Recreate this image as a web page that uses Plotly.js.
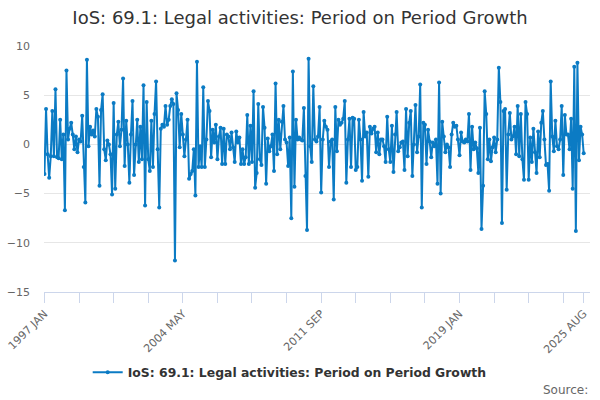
<!DOCTYPE html>
<html>
<head>
<meta charset="utf-8">
<script src="https://cdn.plot.ly/plotly-3.0.1.min.js"></script>
<style>
  html, body { margin: 0; padding: 0; background: #fff; }
  #chart { width: 600px; height: 400px; }
</style>
</head>
<body>
<div id="chart"></div>
<script>
// monthly growth, 1997 JAN .. 2025 AUG, one row per year
const startYear = 1997;
const monthNames = ['JAN', 'FEB', 'MAR', 'APR', 'MAY', 'JUN', 'JUL', 'AUG', 'SEP', 'OCT', 'NOV', 'DEC'];
const growthByYear = [
    [-3.0, 3.6, -1.0, -3.4, -1.2, 3.4, -1.2, 5.6, -1.3, -1.4, 2.5, -1.5],
    [1.0, -6.7, 7.5, 0.5, 1.6, 2.2, 1.0, -0.5, 0.8, -0.8, 0.5, 0.3],
    [2.9, -2.3, -5.9, 8.6, -0.2, 1.8, 1.0, 1.4, 0.8, 3.6, 2.8, -4.2],
    [3.5, 5.1, -0.5, -1.6, 0.4, 0.0, -1.0, -5.1, 4.2, -4.5, 1.0, 2.3],
    [-0.2, 1.5, 6.7, -2.2, 2.4, 0.0, -3.9, 1.0, 4.4, -3.1, 0.0, 2.5],
    [-1.8, 1.8, -1.5, 6.0, -6.2, 4.3, -1.5, -2.7, 2.4, -2.3, 3.1, 6.4],
    [-0.5, -6.4, 1.6, 2.0, 1.8, 3.9, 2.0, 2.5, 3.9, 4.6, 4.1, -11.8],
    [5.2, 3.5, -0.3, 3.1, 1.0, -1.2, 0.5, 2.5, -3.5, -3.0, -2.7, -0.5],
    [-5.2, 8.4, -2.3, -0.2, -2.3, 5.8, -2.3, 0.5, 4.4, 3.4, -1.3, 1.5],
    [0.2, 2.0, -1.5, 0.8, 1.7, -2.0, 1.6, -2.0, 1.0, 0.8, -0.5, 1.2],
    [-0.3, -1.8, 1.3, 0.2, 0.7, -2.0, -0.5, -2.0, -1.3, 3.0, -2.0, 1.9],
    [-1.8, 5.4, -4.4, -2.9, 4.1, -1.5, -2.1, 3.8, 1.7, -4.0, 0.6, -0.7],
    [-0.2, 1.0, -2.7, 6.2, -1.0, 2.5, -0.5, 2.3, 3.9, 0.5, 0.2, -2.2],
    [0.7, -7.5, 7.4, -4.3, 2.5, 0.5, 0.7, 0.5, 0.4, 3.7, -3.2, -8.7],
    [8.7, -0.2, -1.8, 5.9, 0.5, 0.3, 0.8, 3.8, -4.9, 0.5, 2.4, 1.8],
    [1.5, -2.3, 0.3, 0.5, -5.6, 3.8, -0.7, 2.5, 2.0, 2.2, 2.6, 4.4],
    [-3.9, 0.5, 2.6, -2.3, 2.7, 2.6, -2.6, -2.3, 2.5, 0.5, -3.7, 3.3],
    [0.8, 1.2, -3.3, 1.8, 1.1, 1.6, 1.8, -0.8, 1.2, -1.0, 0.5, 0.5],
    [-0.2, -1.8, 2.8, -0.5, -1.8, 1.9, -2.8, 1.0, 3.3, -0.7, -0.3, 0.2],
    [0.3, -2.6, 3.6, -1.2, 2.2, 3.4, -3.2, 0.0, 4.0, -0.8, 0.8, 6.1],
    [-6.4, 2.2, 2.0, -2.0, 1.5, 0.3, -1.3, 0.2, -0.2, 0.5, -4.0, 6.3],
    [-5.0, 2.3, 0.8, -0.8, 0.0, -0.3, -2.3, 1.0, 2.2, 1.8, 1.9, 0.5],
    [-1.1, 1.2, 0.3, 0.2, 0.5, 0.3, 3.1, -2.6, 1.8, -0.5, 0.2, -0.4],
    [-2.9, 1.7, -8.6, -4.2, 5.4, 3.1, -1.5, 0.5, -1.7, -0.3, 0.7, -0.8],
    [0.5, 7.8, 4.3, -8.0, 3.4, 3.6, -4.6, 1.0, 3.2, 0.5, 0.8, 1.8],
    [-1.0, 3.9, -1.2, 3.1, -1.5, -3.6, 4.3, 3.1, -3.6, 0.7, -1.8, 1.6],
    [-0.8, -2.9, 1.3, -1.3, 2.2, 3.4, 0.5, -2.1, -2.0, -4.7, 6.4, 0.8],
    [-0.7, 2.4, -0.2, -0.5, 0.5, 3.9, -3.1, 3.0, 1.0, 1.0, -0.5, 2.6],
    [-4.5, 7.9, -8.8, 8.3, -1.6, 1.8, 1.0, -0.9]
];
const labelledMonths = ['1997 JAN', '2004 MAY', '2011 SEP', '2019 JAN', '2025 AUG'];
const seriesName = 'IoS: 69.1: Legal activities: Period on Period Growth';

const months = [];
const values = [];
growthByYear.forEach((row, y) => {
    row.forEach((v, m) => {
        months.push(`${startYear + y} ${monthNames[m]}`);
        values.push(v);
    });
});
const idx = months.map((_, i) => i);

// tick marks every 22 months, text only on the labelled ones (+ last month)
const tickvals = [];
for (let i = 0; i < months.length; i += 22) tickvals.push(i);
tickvals.push(months.length - 1);
const ticktext = tickvals.map(i => labelledMonths.includes(months[i]) ? months[i] : '');

const blue = '#0b7bc4';
const font = 'DejaVu Sans, sans-serif';

const trace = {
    x: idx,
    y: values,
    text: months,
    name: seriesName,
    type: 'scatter',
    mode: 'lines+markers',
    line: { color: blue, width: 2 },
    marker: { color: blue, size: 4 },
    hoverinfo: 'text+y'
};

const layout = {
    width: 600,
    height: 400,
    margin: { l: 44, r: 10, t: 46, b: 108 },
    paper_bgcolor: '#ffffff',
    plot_bgcolor: '#ffffff',
    font: { family: font, color: '#666666', size: 11 },
    title: {
        text: seriesName,
        font: { family: font, size: 18, color: '#333333' },
        x: 0.5, xanchor: 'center',
        y: 0.955, yanchor: 'middle'
    },
    xaxis: {
        range: [-0.3, months.length + 3],
        tickmode: 'array',
        tickvals: tickvals,
        ticktext: ticktext,
        tickangle: -45,
        ticks: 'outside',
        ticklen: 10,
        tickcolor: '#ccd6eb',
        showline: true,
        linecolor: '#ccd6eb',
        linewidth: 1,
        showgrid: false,
        zeroline: false,
        tickfont: { family: font, size: 11, color: '#666666' }
    },
    yaxis: {
        range: [-15, 10],
        tickvals: [-15, -10, -5, 0, 5, 10],
        showgrid: true,
        gridcolor: '#e6e6e6',
        zeroline: false,
        showline: false,
        ticks: '',
        ticklabelstandoff: 13,
        tickfont: { family: font, size: 11, color: '#666666' }
    },
    showlegend: true,
    legend: {
        orientation: 'h',
        x: 0.45, xanchor: 'center',
        yref: 'container', y: 0.068, yanchor: 'middle',
        font: { family: font, size: 12.4, color: '#333333', weight: 'bold' },
        itemwidth: 30
    },
    annotations: [{
        text: 'Source:',
        xref: 'paper', yref: 'paper',
        x: 1.0, xanchor: 'right',
        y: -0.398, yanchor: 'middle',
        showarrow: false,
        font: { family: font, size: 12, color: '#666666' }
    }]
};

Plotly.newPlot('chart', [trace], layout, { displayModeBar: false, staticPlot: true });
</script>
</body>
</html>
